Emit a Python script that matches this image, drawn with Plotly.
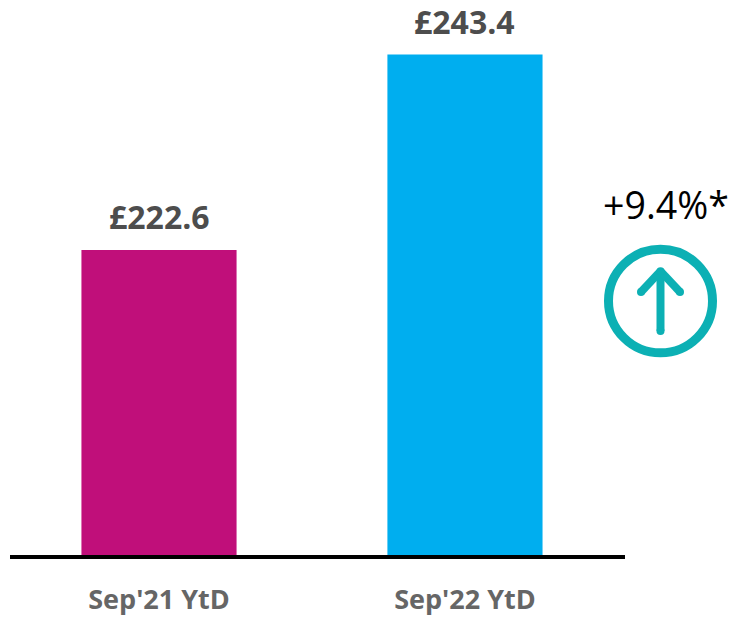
import plotly.graph_objects as go

categories = ["Sep'21 YtD", "Sep'22 YtD"]
values = [222.6, 243.4]
value_labels = ["£222.6", "£243.4"]
colors = ["#C00F7A", "#00AEEF"]
change_label = "+9.4%*"
W, H = 730, 617


def px(x):
    return x / W


def py(y):
    return 1 - y / H


fig = go.Figure(go.Bar(
    x=categories, y=values, width=0.507, marker=dict(color=colors, line=dict(width=0)),
    cliponaxis=False,
))
fig.update_layout(
    width=W, height=H, margin=dict(l=0, r=0, t=0, b=0), showlegend=False,
    plot_bgcolor="white", paper_bgcolor="white",
    xaxis=dict(domain=[px(10), px(625)], range=[-0.487, 1.523], type="category",
               showgrid=False, showline=True, linecolor="black", linewidth=4,
               ticks="", tickfont=dict(family="Open Sans", size=27, color="#666666", weight="bold"),
               ticklabelstandoff=17),
    yaxis=dict(domain=[py(557), 1], range=[190.13, 249.2], visible=False),
)
for c, v, t in zip(categories, values, value_labels):
    fig.add_annotation(x=c, y=v, text=t, showarrow=False, xanchor="center", yanchor="bottom", yshift=10,
                       font=dict(family="Open Sans", size=32, color="#4D4D4D", weight="bold"))
fig.add_annotation(xref="paper", yref="paper", x=px(666), y=py(205), text=change_label, showarrow=False,
                   xanchor="center", yanchor="middle",
                   font=dict(family="Open Sans", size=37.5, color="black"))
TEAL = "#0CB0B4"
fig.add_shape(type="circle", xref="paper", yref="paper", x0=px(608.5), x1=px(712.5), y0=py(354), y1=py(250),
              line=dict(color=TEAL, width=9), fillcolor="rgba(0,0,0,0)")
for xs, ys in [((660.5, 660.5), (332, 272)), ((641, 660.5), (293, 272)), ((680, 660.5), (293, 272))]:
    fig.add_shape(type="line", xref="paper", yref="paper", x0=px(xs[0]), x1=px(xs[1]), y0=py(ys[0]), y1=py(ys[1]),
                  line=dict(color=TEAL, width=8))
for cx, cy in [(660.5, 332), (641, 293), (680, 293), (660.5, 272)]:
    fig.add_shape(type="circle", xref="paper", yref="paper", x0=px(cx - 4), x1=px(cx + 4),
                  y0=py(cy + 4), y1=py(cy - 4), line=dict(width=0), fillcolor=TEAL)
fig.write_html("out.html", config=dict(displayModeBar=False), post_script="document.body.style.margin='0';")
